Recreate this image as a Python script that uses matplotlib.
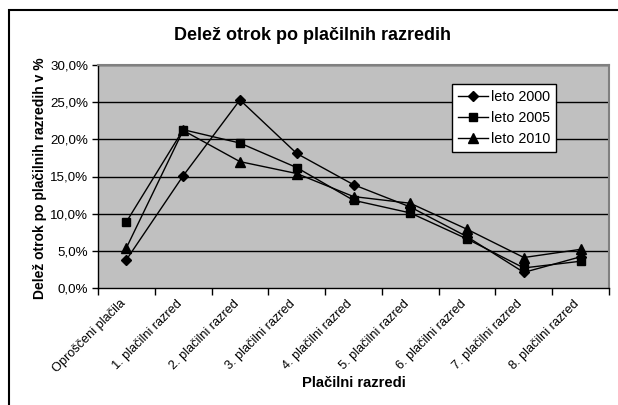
import matplotlib
matplotlib.use("Agg")
import matplotlib.pyplot as plt
from matplotlib.patches import Rectangle
from matplotlib.ticker import FuncFormatter, FixedLocator
import matplotlib.transforms as mtransforms

plt.rcParams['font.family'] = ['Liberation Sans', 'DejaVu Sans']

categories = ["Oproščeni plačila", "1. plačilni razred", "2. plačilni razred",
              "3. plačilni razred", "4. plačilni razred", "5. plačilni razred",
              "6. plačilni razred", "7. plačilni razred", "8. plačilni razred"]
leto_2000 = [3.8, 15.1, 25.3, 18.1, 13.9, 10.9, 6.9, 2.1, 4.2]
leto_2005 = [8.9, 21.3, 19.5, 16.2, 11.8, 10.1, 6.6, 2.7, 3.6]
leto_2010 = [5.4, 21.2, 17.0, 15.4, 12.3, 11.4, 7.9, 4.1, 5.2]
series_names = ["leto 2000", "leto 2005", "leto 2010"]
y_ticks = [0, 5, 10, 15, 20, 25, 30]

W, H = 618, 405
fig = plt.figure(figsize=(W / 100, H / 100), dpi=100)
fig.patch.set_facecolor('white')

left, right, top, bottom = 98, 609, 65, 288
ax = fig.add_axes([left / W, 1 - bottom / H, (right - left) / W, (bottom - top) / H])
ax.set_facecolor('#C0C0C0')

x = list(range(len(categories)))
ax.plot(x, leto_2000, color='black', lw=1, marker='D', ms=5.5, label=series_names[0], zorder=3)
ax.plot(x, leto_2005, color='black', lw=1, marker='s', ms=6, label=series_names[1], zorder=3)
ax.plot(x, leto_2010, color='black', lw=1, marker='^', ms=7, label=series_names[2], zorder=3)

ax.set_xlim(-0.5, len(categories) - 0.5)
ax.set_ylim(0, 30)
ax.set_yticks(y_ticks)
ax.yaxis.set_major_formatter(FuncFormatter(lambda v, p: f"{v:.1f}%".replace('.', ',')))
ax.tick_params(axis='y', direction='out', length=4, width=1, labelsize=9.6, pad=3)
for yv in y_ticks[1:]:
    ax.axhline(yv, color='black', lw=1, zorder=1)

ax.set_xticks(x)
ax.set_xticklabels(categories, rotation=45, ha='right', va='center', rotation_mode='anchor', fontsize=9.2)
ax.tick_params(axis='x', which='major', length=0, pad=10)
offset = mtransforms.ScaledTranslation(-3 / 100, 0, fig.dpi_scale_trans)
for lbl in ax.get_xticklabels():
    lbl.set_transform(lbl.get_transform() + offset)
ax.xaxis.set_minor_locator(FixedLocator([i - 0.5 for i in range(len(categories) + 1)]))
ax.tick_params(axis='x', which='minor', direction='out', length=5, width=1)

for s in ['top', 'right']:
    ax.spines[s].set_color('#808080')
    ax.spines[s].set_linewidth(1.5)
for s in ['left', 'bottom']:
    ax.spines[s].set_color('black')
    ax.spines[s].set_linewidth(1)

leg = ax.legend(loc='upper left', bbox_to_anchor=((452 - left) / (right - left), 1 - (84 - top) / (bottom - top)),
                fontsize=10.4, frameon=True, fancybox=False, edgecolor='black', facecolor='white',
                framealpha=1, handlelength=2.1, handletextpad=0.2, borderpad=0.4, labelspacing=0.5,
                borderaxespad=0)
leg.get_frame().set_linewidth(1)

fig.text(312 / W, 1 - 36 / H, "Delež otrok po plačilnih razredih", ha='center', va='center',
         fontsize=13, fontweight='bold')
fig.text(353.5 / W, 1 - 383 / H, "Plačilni razredi", ha='center', va='center',
         fontsize=10.6, fontweight='bold')
fig.text(40 / W, 1 - 178 / H, "Delež otrok po plačilnih razredih v %", ha='center', va='center',
         rotation=90, fontsize=10, fontweight='bold')

fig.patches.append(Rectangle((9 / W, -0.1), 1.2, 1 - 10 / H + 0.1, transform=fig.transFigure,
                             fill=False, edgecolor='black', lw=1.5, clip_on=False))

fig.savefig("out.png", dpi=100, facecolor='white')
